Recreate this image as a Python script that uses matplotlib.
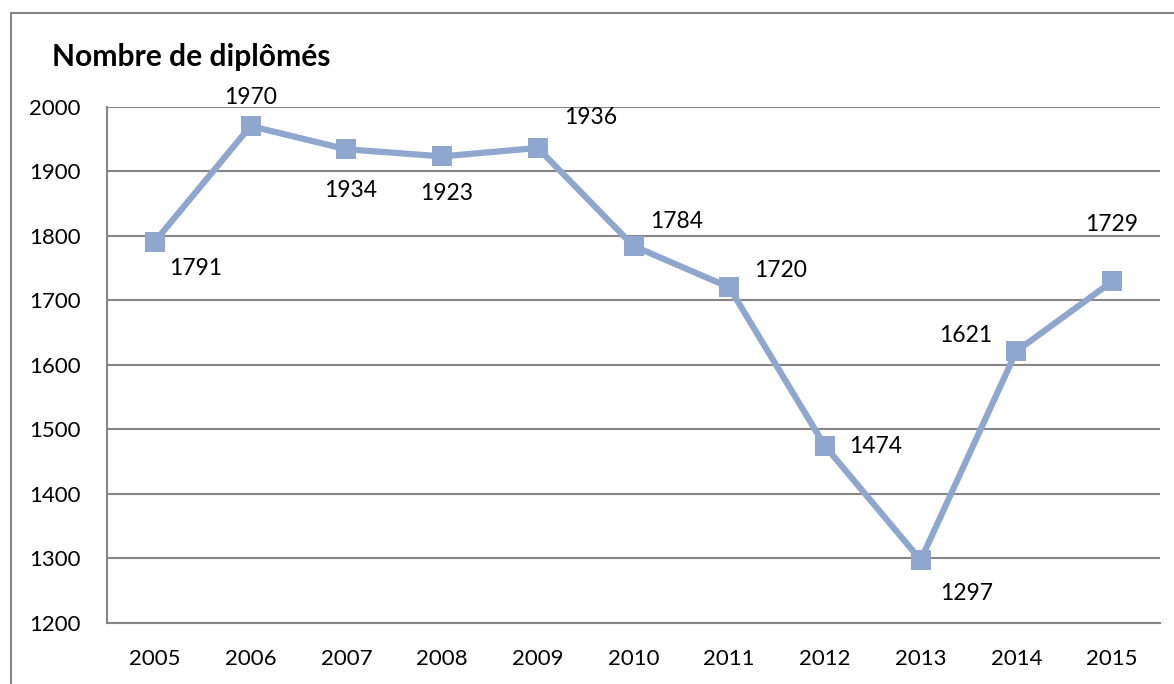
import matplotlib
matplotlib.use("Agg")
import matplotlib.pyplot as plt
from matplotlib.patches import Rectangle
from matplotlib.ticker import MultipleLocator

years = ["2005", "2006", "2007", "2008", "2009", "2010", "2011", "2012", "2013", "2014", "2015"]
diplomes = [1791, 1970, 1934, 1923, 1936, 1784, 1720, 1474, 1297, 1621, 1729]
title = "Nombre de diplômés"

# label offsets in pixels (dx, dy) relative to each point
label_offsets = [(41, -27), (0, 29), (4, -41), (5, -37), (53, 30), (43, 25),
                 (51, 17), (51, -1), (46, -33), (-51, 16), (-1, 57)]

plt.rcParams['font.family'] = ['Lato', 'DejaVu Sans']

W, H = 1174, 684
fig = plt.figure(figsize=(W / 100, H / 100), dpi=100)
fig.patch.set_facecolor('white')

# outer chart frame
fig.add_artist(Rectangle((11 / W, -0.5), 2.0, 1.5 - 13 / H, transform=fig.transFigure,
                         fill=False, edgecolor='#868686', linewidth=1.5))

ax = fig.add_axes([107 / W, 1 - 622.7 / H, (1160 - 107) / W, (622.7 - 106.7) / H])
x = list(range(len(years)))
ax.plot(x, diplomes, color='#8FA7CF', linewidth=4.5, marker='s', markersize=14,
        markeredgewidth=0, zorder=3, clip_on=False)

ax.set_xlim(-0.5, len(years) - 0.5)
ax.set_ylim(1200, 2000)
ax.yaxis.set_major_locator(MultipleLocator(100))
ax.set_xticks(x)
ax.set_xticklabels(years)
ax.grid(axis='y', color='#868686', linewidth=1.5)
ax.set_axisbelow(True)
for s in ['top', 'right']:
    ax.spines[s].set_visible(False)
for s in ['left', 'bottom']:
    ax.spines[s].set_color('#868686')
    ax.spines[s].set_linewidth(1.5)
ax.tick_params(axis='both', length=0, labelsize=16, colors='black')
ax.tick_params(axis='y', pad=19)
ax.tick_params(axis='x', pad=19)

for xi, yi, (dx, dy) in zip(x, diplomes, label_offsets):
    ax.annotate(str(yi), (xi, yi), xytext=(dx, dy), textcoords='offset pixels',
                ha='center', va='center', fontsize=16.5, color='black')

fig.text(52 / W, 1 - 57 / H, title, fontsize=21.6, fontweight='bold', ha='left', va='center')

fig.savefig('out.png', dpi=100)
